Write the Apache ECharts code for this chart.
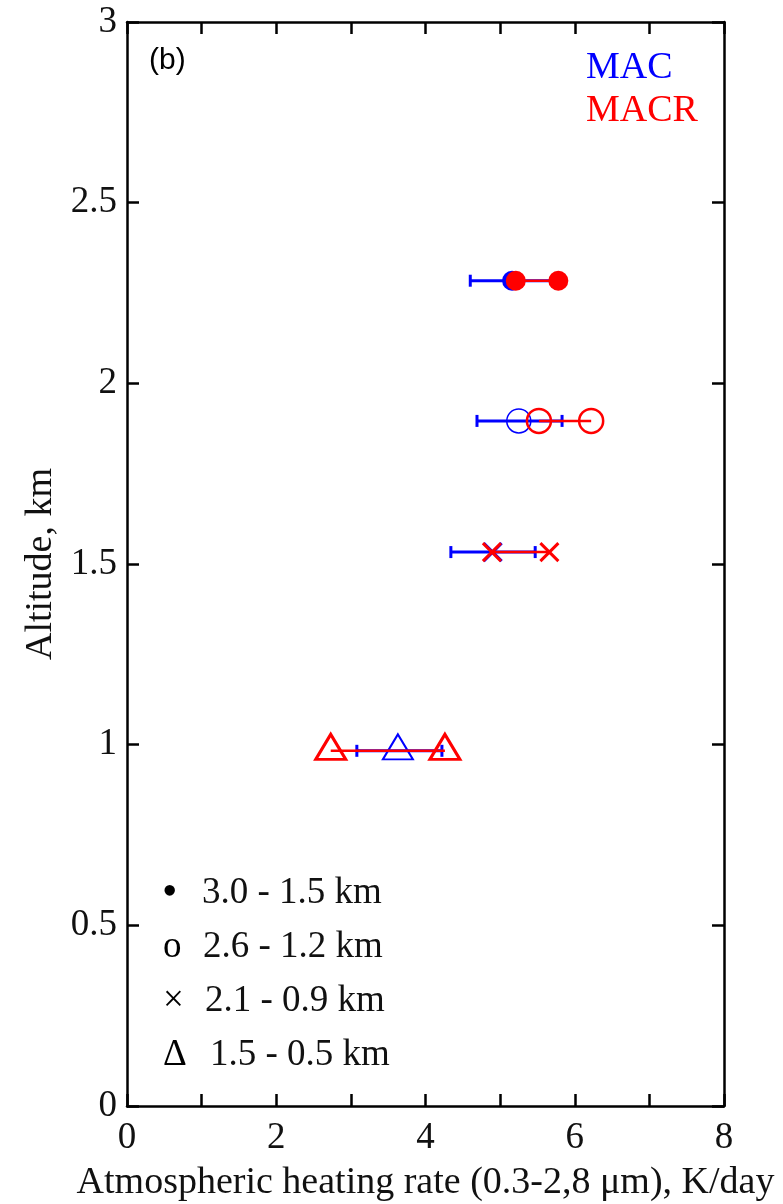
<!DOCTYPE html>
<html>
<head>
<meta charset="utf-8">
<script src="https://cdn.jsdelivr.net/npm/echarts@6/dist/echarts.min.js"></script>
<style>
  html, body { margin: 0; padding: 0; background: #fff; }
  #chart { width: 783px; height: 1204px; }
</style>
</head>
<body>
<div id="chart"></div>
<script>
// heating rate per layer, K/day
var altitudes = [2.284, 1.896, 1.533, 0.983];
var macMean = [5.16, 5.25, 4.90, 3.63];
var macLow = [4.60, 4.69, 4.34, 3.08];
var macHigh = [5.72, 5.83, 5.47, 4.22];
var macrLeft = [5.21, 5.52, 4.89, 2.73];
var macrRight = [5.78, 6.22, 5.66, 4.26];
var layerLabels = ['3.0 - 1.5 km', '2.6 - 1.2 km', '2.1 - 0.9 km', '1.5 - 0.5 km'];
var layerSymbols = ['\u2022', 'o', '\u00d7', '\u0394'];

var BLUE = '#0000ff', RED = '#ff0000';
var SERIF = '"Liberation Serif", "DejaVu Serif", serif';
var crossPath = 'path://M0,0L10,10M10,0L0,10';

// marker look for each row (filled circle, open circle, cross, triangle)
function markerStyle(row, color, isMac) {
    if (row == 0) {
        return { symbol: 'circle', symbolSize: 20, itemStyle: { color: color, opacity: 1 } };
    }
    if (row == 1) {
        return { symbol: 'circle', symbolSize: 24,
            itemStyle: { color: 'rgba(0,0,0,0)', borderColor: color, borderWidth: isMac ? 1.5 : 2.5, opacity: 1 } };
    }
    if (row == 2) {
        return { symbol: crossPath, symbolSize: 18,
            itemStyle: { color: 'rgba(0,0,0,0)', borderColor: color, borderWidth: 3, opacity: 1 } };
    }
    return { symbol: 'triangle', symbolSize: [30, 25], symbolOffset: [0, -4],
        itemStyle: { color: 'rgba(0,0,0,0)', borderColor: color, borderWidth: isMac ? 2 : 3, opacity: 1 } };
}

var macPoints = [], macrPoints = [], errData = [], segData = [];
for (var i = 0; i < altitudes.length; i++) {
    var m = markerStyle(i, BLUE, true);
    m.value = [macMean[i], altitudes[i]];
    macPoints.push(m);
    var a = markerStyle(i, RED, false);
    a.value = [macrLeft[i], altitudes[i]];
    macrPoints.push(a);
    var b = markerStyle(i, RED, false);
    b.value = [macrRight[i], altitudes[i]];
    macrPoints.push(b);
    errData.push([macLow[i], macHigh[i], altitudes[i]]);
    segData.push([macrLeft[i], macrRight[i], altitudes[i]]);
}

var legendTexts = [];
var legendTextX = [202, 203, 205, 210];
for (var k = 0; k < layerLabels.length; k++) {
    legendTexts.push({
        type: 'text', x: k == 0 ? 162 : 163, y: 893 + k * 54,
        style: { text: layerSymbols[k], font: (k == 0 ? '44px ' : '37px ') + SERIF, fill: '#000', verticalAlign: 'middle' }
    });
    legendTexts.push({
        type: 'text', x: legendTextX[k], y: 893 + k * 54,
        style: { text: layerLabels[k], font: '37px ' + SERIF, fill: '#111', verticalAlign: 'middle' }
    });
}

// fresh objects for each axis
function frameLine() {
    return { show: true, onZero: false, lineStyle: { color: '#000', width: 2.5 } };
}
function frameTick() {
    return { show: true, inside: true, length: 12, lineStyle: { color: '#000', width: 2.5 } };
}

var myChart = echarts.init(document.getElementById('chart'));
var option = {
    animation: false,
    backgroundColor: '#fff',
    grid: { left: 127, right: 59, top: 22, bottom: 98, containLabel: false, outerBoundsMode: 'none' },
    xAxis: [{
        type: 'value', min: 0, max: 8, interval: 1, position: 'bottom',
        name: 'Atmospheric heating rate (0.3-2,8 \u03bcm), K/day',
        nameLocation: 'middle', nameGap: 58,
        nameTextStyle: { fontFamily: SERIF, fontSize: 38, color: '#111' },
        axisLine: frameLine(), axisTick: frameTick(), splitLine: { show: false },
        axisLabel: {
            fontFamily: SERIF, fontSize: 37, color: '#111', margin: 14,
            formatter: function (v) { return v % 2 == 0 ? String(v) : ''; }
        }
    }, {
        type: 'value', min: 0, max: 8, interval: 1, position: 'top',
        axisLine: frameLine(), axisTick: frameTick(), splitLine: { show: false },
        axisLabel: { show: false }
    }],
    yAxis: [{
        type: 'value', min: 0, max: 3, interval: 0.5, position: 'left',
        name: 'Altitude, km', nameLocation: 'middle', nameGap: 66,
        nameTextStyle: { fontFamily: SERIF, fontSize: 38, color: '#111' },
        axisLine: frameLine(), axisTick: frameTick(), splitLine: { show: false },
        axisLabel: { fontFamily: SERIF, fontSize: 37, color: '#111', margin: 10 }
    }, {
        type: 'value', min: 0, max: 3, interval: 0.5, position: 'right',
        axisLine: frameLine(), axisTick: frameTick(), splitLine: { show: false },
        axisLabel: { show: false }
    }],
    graphic: [
        { type: 'text', x: 149, y: 61, style: { text: '(b)', font: '30px "Liberation Sans", Arial, sans-serif', fill: '#000', verticalAlign: 'middle' } },
        { type: 'text', x: 586, y: 68, style: { text: 'MAC', font: '38px ' + SERIF, fill: BLUE, verticalAlign: 'middle' } },
        { type: 'text', x: 586, y: 111, style: { text: 'MACR', font: '38px ' + SERIF, fill: RED, verticalAlign: 'middle' } }
    ].concat(legendTexts),
    series: [{
        // MAC error bars
        type: 'custom', z: 2, data: errData,
        renderItem: function (params, api) {
            var p1 = api.coord([api.value(0), api.value(2)]);
            var p2 = api.coord([api.value(1), api.value(2)]);
            var st = { stroke: BLUE, lineWidth: 3 };
            return { type: 'group', children: [
                { type: 'line', shape: { x1: p1[0], y1: p1[1], x2: p2[0], y2: p2[1] }, style: st },
                { type: 'line', shape: { x1: p1[0], y1: p1[1] - 6, x2: p1[0], y2: p1[1] + 6 }, style: st },
                { type: 'line', shape: { x1: p2[0], y1: p2[1] - 6, x2: p2[0], y2: p2[1] + 6 }, style: st }
            ] };
        }
    }, {
        type: 'scatter', z: 3, data: macPoints
    }, {
        // MACR range
        type: 'custom', z: 4, data: segData,
        renderItem: function (params, api) {
            var p1 = api.coord([api.value(0), api.value(2)]);
            var p2 = api.coord([api.value(1), api.value(2)]);
            return { type: 'line', shape: { x1: p1[0], y1: p1[1], x2: p2[0], y2: p2[1] },
                style: { stroke: RED, lineWidth: 2.5 } };
        }
    }, {
        type: 'scatter', z: 5, data: macrPoints
    }]
};
myChart.setOption(option);
window.onresize = function () {
    myChart.resize();
};
</script>
</body>
</html>
